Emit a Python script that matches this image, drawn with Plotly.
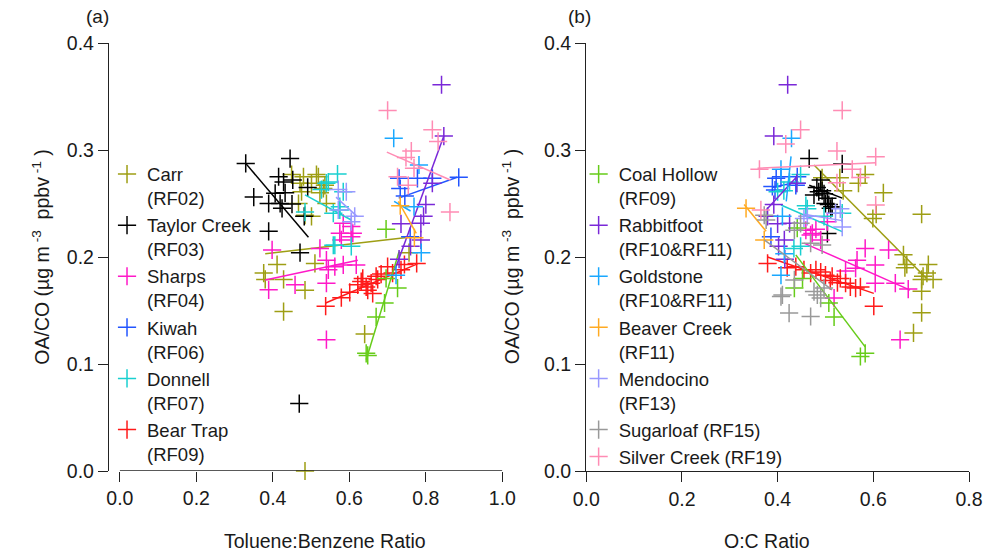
import plotly.graph_objects as go

# ---------------- data ----------------
fire_names = ["Carr", "Taylor Creek", "Sharps", "Kiwah", "Donnell", "Bear Trap",
              "Coal Hollow", "Rabbitfoot", "Goldstone", "Beaver Creek", "Mendocino",
              "Sugarloaf", "Silver Creek"]
legend_labels = ["Carr<br>(RF02)", "Taylor Creek<br>(RF03)", "Sharps<br>(RF04)",
                 "Kiwah<br>(RF06)", "Donnell<br>(RF07)", "Bear Trap<br>(RF09)",
                 "Coal Hollow<br>(RF09)", "Rabbitfoot<br>(RF10&RF11)",
                 "Goldstone<br>(RF10&RF11)", "Beaver Creek<br>(RF11)",
                 "Mendocino<br>(RF13)", "Sugarloaf (RF15)", "Silver Creek (RF19)"]
legend_panel = ["a", "a", "a", "a", "a", "a", "b", "b", "b", "b", "b", "b", "b"]
colors = ["#9e9e14", "#000000", "#ff19c8", "#2255ff", "#19d0d0", "#ff1a1a",
          "#66cc19", "#7a28d8", "#19a8ff", "#ffaa22", "#9999ff", "#999999", "#ff8cb4"]

x_ticks_a = [0.0, 0.2, 0.4, 0.6, 0.8, 1.0]
x_ticks_b = [0.0, 0.2, 0.4, 0.6, 0.8]
y_ticks = [0.0, 0.1, 0.2, 0.3, 0.4]

# panel (a): Toluene:Benzene ratio vs OA/CO ; panel (b): O:C ratio vs OA/CO
carr_a = ([0.449, 0.480, 0.514, 0.471, 0.501, 0.536, 0.475, 0.523, 0.467, 0.540, 0.484, 0.501,
           0.519, 0.532, 0.376, 0.411, 0.510, 0.380, 0.428, 0.484, 0.428, 0.640, 0.756, 0.484],
          [0.277, 0.275, 0.277, 0.269, 0.269, 0.267, 0.261, 0.260, 0.250, 0.250, 0.239, 0.238,
           0.275, 0.264, 0.185, 0.193, 0.194, 0.179, 0.179, 0.169, 0.149, 0.128, 0.204, 0.0])
carr_a_fit = ([0.380, 0.756], [0.203, 0.2185])
carr_b = ([0.493, 0.530, 0.583, 0.569, 0.537, 0.621, 0.599, 0.701, 0.663, 0.670, 0.715, 0.704,
           0.725, 0.701, 0.701, 0.701, 0.684, 0.666, 0.712, 0.606],
          [0.274, 0.274, 0.277, 0.269, 0.262, 0.260, 0.236, 0.240, 0.202, 0.193, 0.193, 0.182,
           0.179, 0.179, 0.168, 0.148, 0.129, 0.190, 0.185, 0.240])
carr_b_fit = ([0.476, 0.711], [0.286, 0.180])

taylor_a = ([0.329, 0.445, 0.415, 0.428, 0.452, 0.491, 0.350, 0.406, 0.432, 0.389, 0.419, 0.450,
             0.424, 0.482, 0.389, 0.471, 0.469],
            [0.2875, 0.292, 0.275, 0.270, 0.272, 0.265, 0.256, 0.2595, 0.260, 0.250, 0.250, 0.2495,
             0.2455, 0.238, 0.224, 0.204, 0.063])
taylor_a_fit = ([0.329, 0.493], [0.2875, 0.2185])
taylor_b = ([0.466, 0.535, 0.490, 0.486, 0.497, 0.476, 0.504, 0.507, 0.511, 0.504, 0.482, 0.493,
             0.500, 0.514],
            [0.292, 0.287, 0.272, 0.261, 0.259, 0.258, 0.255, 0.249, 0.2455, 0.222, 0.265, 0.262,
             0.250, 0.247])
taylor_b_fit = ([0.466, 0.535], [0.267, 0.255])

sharps_a = ([0.584, 0.605, 0.575, 0.609, 0.579, 0.523, 0.605, 0.398, 0.540, 0.562, 0.584, 0.618,
             0.545, 0.458, 0.540, 0.389, 0.540],
            [0.2315, 0.2284, 0.2222, 0.2222, 0.216, 0.208, 0.219, 0.2066, 0.197, 0.191, 0.1926,
             0.1926, 0.188, 0.174, 0.1755, 0.1693, 0.1227])
sharps_a_fit = ([0.380, 0.622], [0.1786, 0.197])
sharps_b = ([0.583, 0.632, 0.566, 0.604, 0.646, 0.673, 0.604, 0.518, 0.656, 0.563, 0.542, 0.480,
             0.4725, 0.459, 0.469, 0.504, 0.490],
            [0.208, 0.2066, 0.197, 0.1926, 0.1755, 0.170, 0.1755, 0.1616, 0.1227, 0.1895, 0.187,
             0.226, 0.222, 0.225, 0.2206, 0.233, 0.216])
sharps_b_fit = ([0.455, 0.677], [0.213, 0.169])

kiwah_a = ([0.730, 0.778, 0.817, 0.886, 0.733, 0.759, 0.745],
           [0.2735, 0.2735, 0.2735, 0.2745, 0.264, 0.219, 0.257])
kiwah_a_fit = ([0.729, 0.882], [0.255, 0.2745])
kiwah_b = ([0.397, 0.407, 0.441, 0.389, 0.438, 0.3945, 0.386],
           [0.2735, 0.275, 0.275, 0.266, 0.267, 0.2626, 0.219])
kiwah_b_fit = ([0.389, 0.441], [0.265, 0.270])

donnell_a = ([0.569, 0.545, 0.584, 0.484, 0.575, 0.540, 0.575, 0.558, 0.558, 0.605, 0.527, 0.562],
             [0.2775, 0.270, 0.261, 0.242, 0.244, 0.269, 0.247, 0.241, 0.211, 0.210, 0.263, 0.211])
donnell_a_fit = ([0.484, 0.605], [0.258, 0.2346])
donnell_b = ([0.448, 0.425, 0.400, 0.459, 0.497, 0.462, 0.535, 0.440, 0.448, 0.434, 0.413],
             [0.277, 0.270, 0.261, 0.248, 0.238, 0.245, 0.241, 0.269, 0.210, 0.208, 0.262])
donnell_b_fit = ([0.407, 0.535], [0.2486, 0.2237])

beartrap_a = ([0.538, 0.579, 0.601, 0.631, 0.648, 0.657, 0.635, 0.670, 0.683, 0.700, 0.644, 0.674,
               0.735, 0.744, 0.776, 0.713, 0.622, 0.661],
              [0.154, 0.162, 0.167, 0.177, 0.169, 0.1755, 0.180, 0.182, 0.184, 0.191, 0.172, 0.179,
               0.188, 0.193, 0.194, 0.185, 0.174, 0.166])
beartrap_a_fit = ([0.538, 0.778], [0.157, 0.1936])
beartrap_b = ([0.379, 0.438, 0.455, 0.480, 0.500, 0.514, 0.531, 0.552, 0.563, 0.573, 0.601, 0.542,
               0.490, 0.469, 0.420, 0.525, 0.510],
              [0.194, 0.191, 0.188, 0.188, 0.183, 0.182, 0.180, 0.172, 0.171, 0.172, 0.154, 0.1755,
               0.186, 0.185, 0.190, 0.176, 0.178])
beartrap_b_fit = ([0.379, 0.601], [0.200, 0.166])

coal_a = ([0.696, 0.726, 0.696, 0.692, 0.670, 0.648, 0.644],
          [0.226, 0.171, 0.180, 0.157, 0.144, 0.108, 0.110])
coal_a_fit = ([0.644, 0.730], [0.104, 0.205])
coal_b = ([0.441, 0.435, 0.452, 0.507, 0.518, 0.573, 0.583],
          [0.227, 0.171, 0.180, 0.157, 0.144, 0.107, 0.110])
coal_b_fit = ([0.438, 0.583], [0.202, 0.116])

rabbit_a = ([0.841, 0.847, 0.817, 0.800, 0.794, 0.735, 0.787, 0.787, 0.730, 0.760],
            [0.361, 0.313, 0.269, 0.249, 0.238, 0.231, 0.2315, 0.216, 0.198, 0.210])
rabbit_a_fit = ([0.719, 0.847], [0.188, 0.313])
rabbit_b = ([0.421, 0.392, 0.440, 0.392, 0.379, 0.400, 0.425, 0.414, 0.415, 0.402],
            [0.361, 0.313, 0.269, 0.249, 0.238, 0.231, 0.2315, 0.216, 0.198, 0.210])
rabbit_b_fit = ([0.376, 0.440], [0.244, 0.275])

gold_a = ([0.716, 0.782, 0.769, 0.788, 0.722], [0.311, 0.286, 0.247, 0.204, 0.183])
gold_a_fit = ([0.717, 0.760], [0.252, 0.243])
gold_b = ([0.429, 0.407, 0.410, 0.414, 0.407], [0.311, 0.282, 0.238, 0.203, 0.183])
gold_b_fit = ([0.428, 0.418], [0.294, 0.252])

beaver_a = ([0.733, 0.770], [0.248, 0.218])
beaver_a_fit = ([0.728, 0.775], [0.252, 0.222])
beaver_b = ([0.334, 0.372], [0.2455, 0.216])
beaver_b_fit = ([0.330, 0.376], [0.249, 0.224])

mendo_a = ([0.571, 0.592, 0.571, 0.614, 0.605], [0.263, 0.261, 0.244, 0.238, 0.233])
mendo_a_fit = ([0.565, 0.620], [0.256, 0.238])
mendo_b = ([0.455, 0.462, 0.521, 0.535, 0.531], [0.236, 0.238, 0.241, 0.228, 0.245])
mendo_b_fit = ([0.455, 0.535], [0.240, 0.234])

sugar_a = ([], [])
sugar_a_fit = ([], [])
sugar_b = ([0.372, 0.376, 0.435, 0.448, 0.469, 0.493, 0.435, 0.476, 0.483, 0.490, 0.497, 0.407,
            0.424, 0.469, 0.410],
           [0.239, 0.2346, 0.225, 0.2315, 0.2129, 0.2113, 0.1786, 0.1677, 0.1646, 0.1616, 0.171,
            0.163, 0.1476, 0.1444, 0.1646])
sugar_b_fit = ([0.372, 0.514], [0.216, 0.1693])

silver_a = ([0.700, 0.817, 0.832, 0.762, 0.748, 0.769, 0.726, 0.754, 0.863],
            [0.337, 0.319, 0.308, 0.299, 0.293, 0.283, 0.275, 0.267, 0.242])
silver_a_fit = ([0.698, 0.864], [0.298, 0.272])
silver_b = ([0.535, 0.448, 0.417, 0.524, 0.605, 0.362, 0.556, 0.573, 0.524, 0.605, 0.365],
            [0.337, 0.319, 0.3055, 0.299, 0.2937, 0.282, 0.282, 0.2744, 0.2694, 0.2486, 0.244])
silver_b_fit = ([0.358, 0.605], [0.283, 0.288])

series_a = [carr_a, taylor_a, sharps_a, kiwah_a, donnell_a, beartrap_a, coal_a, rabbit_a,
            gold_a, beaver_a, mendo_a, sugar_a, silver_a]
fits_a = [carr_a_fit, taylor_a_fit, sharps_a_fit, kiwah_a_fit, donnell_a_fit, beartrap_a_fit,
          coal_a_fit, rabbit_a_fit, gold_a_fit, beaver_a_fit, mendo_a_fit, sugar_a_fit, silver_a_fit]
series_b = [carr_b, taylor_b, sharps_b, kiwah_b, donnell_b, beartrap_b, coal_b, rabbit_b,
            gold_b, beaver_b, mendo_b, sugar_b, silver_b]
fits_b = [carr_b_fit, taylor_b_fit, sharps_b_fit, kiwah_b_fit, donnell_b_fit, beartrap_b_fit,
          coal_b_fit, rabbit_b_fit, gold_b_fit, beaver_b_fit, mendo_b_fit, sugar_b_fit, silver_b_fit]

# ---------------- figure ----------------
FONT = "Liberation Sans, Arial, sans-serif"
TXT = "#1a1a1a"
W, H = 995, 554
ML, MR, MT, MB = 109, 18, 43, 83
PW = W - ML - MR
PH = H - MT - MB

fig = go.Figure()

for i, name in enumerate(fire_names):
    for panel, data, fit in (("a", series_a[i], fits_a[i]), ("b", series_b[i], fits_b[i])):
        xa = "x" if panel == "a" else "x2"
        ya = "y" if panel == "a" else "y2"
        if len(fit[0]):
            fig.add_trace(go.Scatter(x=fit[0], y=fit[1], mode="lines", xaxis=xa, yaxis=ya,
                                     line=dict(color=colors[i], width=1.5),
                                     showlegend=False, hoverinfo="skip", cliponaxis=False))
        show = legend_panel[i] == panel
        fig.add_trace(go.Scatter(
            x=data[0], y=data[1], mode="markers", xaxis=xa, yaxis=ya, name=legend_labels[i],
            marker=dict(symbol="cross-thin", size=13, line=dict(color=colors[i], width=1.5),
                        color=colors[i]),
            showlegend=show, legend="legend" if panel == "a" else "legend2",
            cliponaxis=False))

xa_left = -0.0285
dom_a = [0, (506 - ML) / PW]
dom_b = [(590.7 - ML) / PW, 1]

axis_common = dict(showgrid=False, zeroline=False, ticks="outside", ticklen=10, tickwidth=1.3,
                   tickcolor="#222", linecolor="#222", linewidth=1.3,
                   tickfont=dict(family=FONT, size=19.5, color=TXT))

LEG_FONT = dict(family=FONT, size=18.5, color=TXT)
fig.update_layout(
    width=W, height=H,
    margin=dict(l=ML, r=MR, t=MT, b=MB),
    paper_bgcolor="white", plot_bgcolor="white",
    font=dict(family=FONT, color=TXT),
    xaxis=dict(domain=dom_a, range=[xa_left, 1.0], tickvals=x_ticks_a, tickformat=".1f",
               showline=False, anchor="y", **axis_common),
    yaxis=dict(domain=[0, 1], range=[0, 0.4], tickvals=y_ticks, tickformat=".1f",
               showline=True, anchor="x", **axis_common),
    xaxis2=dict(domain=dom_b, range=[0, 0.8], tickvals=x_ticks_b, tickformat=".1f",
                showline=True, anchor="y2", **axis_common),
    yaxis2=dict(domain=[0, 1], range=[0, 0.4], tickvals=y_ticks, tickformat=".1f",
                showline=True, anchor="x2", **axis_common),
    legend=dict(x=(107 - ML) / PW, y=(471.5 - 156) / PH, xanchor="left", yanchor="top",
                bgcolor="rgba(0,0,0,0)", valign="top", tracegroupgap=0, font=LEG_FONT),
    legend2=dict(x=(583 - ML) / PW, y=(471.5 - 156) / PH, xanchor="left", yanchor="top",
                 bgcolor="rgba(0,0,0,0)", valign="top", tracegroupgap=0, font=LEG_FONT),
)

# x-axis line of panel (a) starting at 0.0 like the reference
fig.add_shape(type="line", xref="x", yref="y", x0=0, x1=1.0, y0=0, y1=0,
              line=dict(color="#222", width=1.3))

ytitle = "OA/CO (µg m<sup> -3</sup>  ppbv<sup> -1</sup> )"
annots = [
    dict(text="(a)", x=(97 - ML) / PW, y=(471.5 - 17) / PH, size=19),
    dict(text="(b)", x=(584 - ML) / PW, y=(471.5 - 17) / PH, size=19),
    dict(text=ytitle, x=(40 - ML) / PW, y=0.5, textangle=-90, size=19.5),
    dict(text=ytitle, x=(515 - ML) / PW, y=0.5, textangle=-90, size=19.5),
    dict(text="Toluene:Benzene Ratio", x=(327 - ML) / PW, y=(471.5 - 541) / PH, size=19.5),
    dict(text="O:C Ratio", x=(773 - ML) / PW, y=(471.5 - 541) / PH, size=19.5),
]
for a in annots:
    size = a.pop("size")
    fig.add_annotation(xref="paper", yref="paper", showarrow=False, xanchor="center",
                       yanchor="middle", font=dict(family=FONT, size=size, color=TXT), **a)

fig.write_html("out.html")
